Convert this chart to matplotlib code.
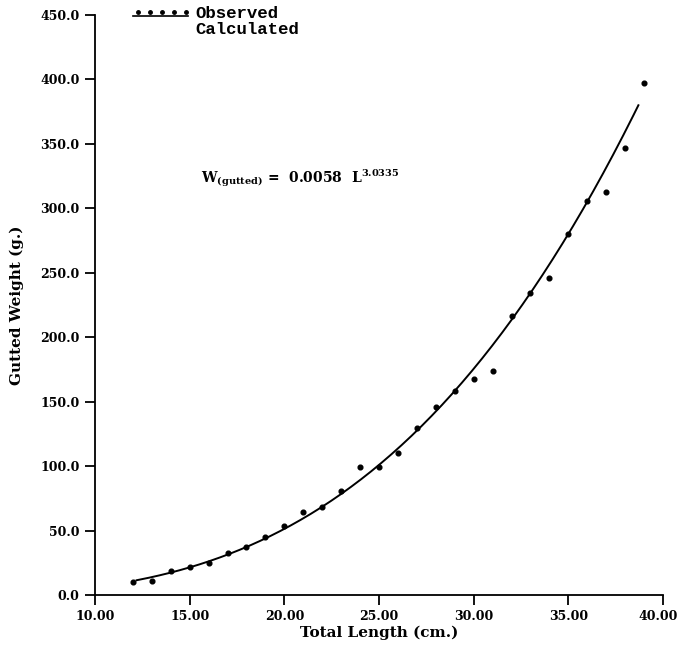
import matplotlib.pyplot as plt
import matplotlib.transforms as mtrans
import numpy as np

# observed total length (cm) and gutted weight (g)
length = [12, 13, 14, 15, 16, 17, 18, 19, 20, 21, 22, 23, 24, 25,
          26, 27, 28, 29, 30, 31, 32, 33, 34, 35, 36, 37, 38, 39]
weight = [10.0, 11.0, 19.0, 21.5, 24.6, 32.6, 37.5, 44.7, 53.8, 64.4,
          68.0, 81.0, 99.0, 99.0, 110.0, 129.3, 146.0, 158.5, 167.3, 174.0,
          216.4, 234.5, 246.0, 280.0, 305.6, 312.6, 347.0, 397.4]

# fitted length-weight relation printed on the chart
coef_a = 0.0058
coef_b = 3.0335

xticks = [10, 15, 20, 25, 30, 35, 40]
yticks = [0, 50, 100, 150, 200, 250, 300, 350, 400, 450]

serif = 'DejaVu Serif'
mono = 'Liberation Mono'
plt.rcParams['mathtext.fontset'] = 'dejavuserif'

fig = plt.figure(figsize=(6.79, 6.45), dpi=100)
ax = fig.add_axes([95 / 679, 50 / 645, 568 / 679, 580 / 645])

L = np.linspace(12.2, 38.7, 200)
ax.plot(L, coef_a * L ** coef_b, color='black', lw=1.4)
ax.plot(length, weight, 'o', color='black', markersize=3.4, ls='none')

ax.set_xlim(10, 40)
ax.set_ylim(0, 450)
ax.set_xticks(xticks)
ax.set_xticklabels(['%.2f' % t for t in xticks])
ax.set_yticks(yticks)
ax.set_yticklabels(['%.1f' % t for t in yticks])
for s in ['top', 'right']:
    ax.spines[s].set_visible(False)
for s in ['left', 'bottom']:
    ax.spines[s].set_linewidth(1.3)
ax.tick_params(direction='out', length=7, width=1.3, labelsize=9, pad=4)
for lab in ax.get_xticklabels() + ax.get_yticklabels():
    lab.set_family(serif)
    lab.set_fontweight('bold')
# last x label sits at the figure edge, nudge it in a little
last = ax.get_xticklabels()[-1]
last.set_transform(last.get_transform() + mtrans.ScaledTranslation(-5 / 100, 0, fig.dpi_scale_trans))

ax.set_xlabel('Total Length (cm.)', family=serif, fontweight='bold',
              fontsize=11, labelpad=2)
ax.set_ylabel('Gutted Weight (g.)', family=serif, fontweight='bold',
              fontsize=11, labelpad=12)

# hand-drawn style legend above the axes
fig.text(195 / 679, 1 - 13 / 645, 'Observed', family=mono, fontweight='bold',
         fontsize=12.5, va='center')
fig.text(195 / 679, 1 - 29 / 645, 'Calculated', family=mono, fontweight='bold',
         fontsize=12.5, va='center')
fig.lines.append(plt.Line2D([133 / 679, 188 / 679], [1 - 16 / 645, 1 - 16 / 645],
                            color='black', lw=1.2, transform=fig.transFigure))
fig.lines.append(plt.Line2D(np.linspace(138, 186, 5) / 679, [1 - 12 / 645] * 5,
                            ls='none', marker='o', markersize=2.5, color='black',
                            transform=fig.transFigure))

ax.text(15.6, 323, r'$\mathbf{W_{(gutted)}}$ =  0.0058  L$^{\mathbf{3.0335}}$',
        family=serif, fontweight='bold', fontsize=10, va='center')

fig.savefig('out.png', dpi=100)
